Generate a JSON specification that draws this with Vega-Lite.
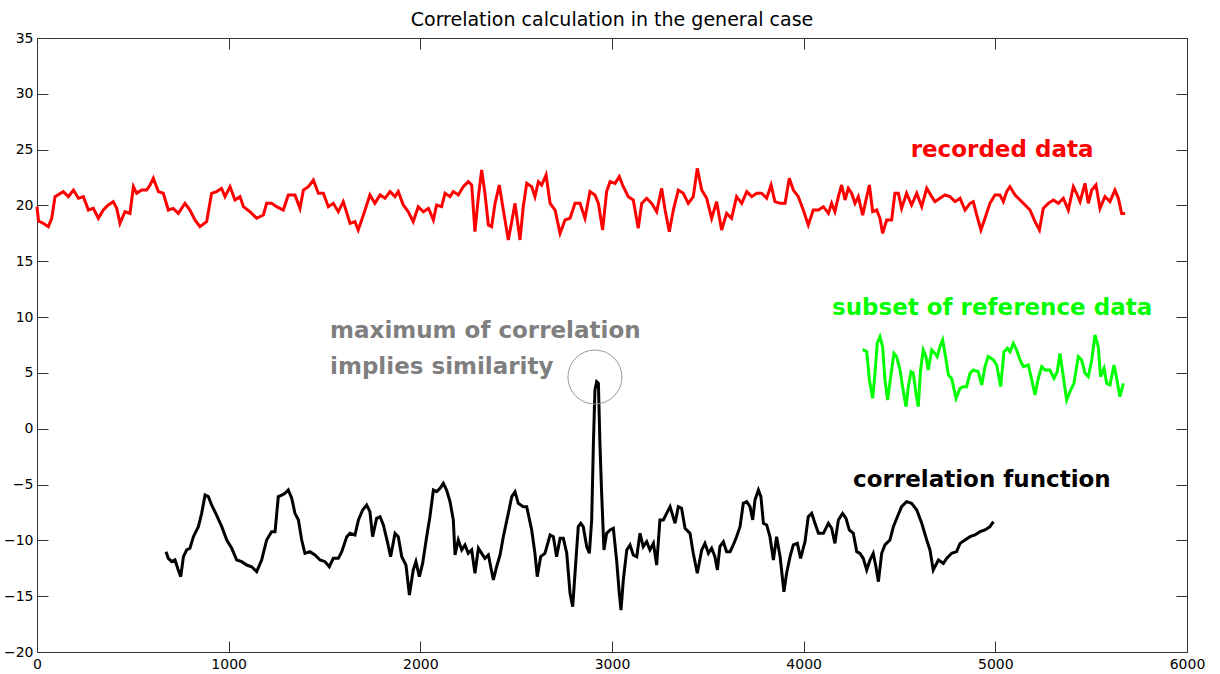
{
  "$schema": "https://vega.github.io/schema/vega-lite/v6.json",
  "width": 1150,
  "height": 614,
  "autosize": {"type": "none"},
  "padding": {"left": 37, "top": 38, "right": 33, "bottom": 22},
  "background": "white",
  "config": {
    "view": {"stroke": "#333333", "strokeWidth": 1},
    "axis": {"grid": false, "domain": false, "labelFont": "DejaVu Sans", "labelFontSize": 14, "labelColor": "#000000", "tickColor": "#333333", "tickSize": -11, "tickWidth": 1, "labelOverlap": false, "labelFlush": false, "title": null}
  },
  "title": {"text": "Correlation calculation in the general case", "font": "DejaVu Sans", "fontSize": 19, "fontWeight": "normal", "color": "#000000", "anchor": "middle", "baseline": "alphabetic", "offset": -14},
  "datasets": {
    "series": [
      {"s":"recorded","x":0,"y":19.9},{"s":"recorded","x":8,"y":18.6},{"s":"recorded","x":33,"y":18.4},{"s":"recorded","x":59,"y":18.1},{"s":"recorded","x":77,"y":18.85},{"s":"recorded","x":94,"y":20.79},{"s":"recorded","x":137,"y":21.24},{"s":"recorded","x":164,"y":20.79},{"s":"recorded","x":190,"y":21.38},{"s":"recorded","x":216,"y":20.64},{"s":"recorded","x":242,"y":20.79},{"s":"recorded","x":268,"y":19.59},{"s":"recorded","x":294,"y":19.74},{"s":"recorded","x":320,"y":18.85},{"s":"recorded","x":346,"y":19.59},{"s":"recorded","x":372,"y":20.04},{"s":"recorded","x":398,"y":20.34},{"s":"recorded","x":416,"y":19.74},{"s":"recorded","x":433,"y":18.4},{"s":"recorded","x":459,"y":19.44},{"s":"recorded","x":485,"y":19.29},{"s":"recorded","x":503,"y":21.68},{"s":"recorded","x":520,"y":21.09},{"s":"recorded","x":546,"y":21.38},{"s":"recorded","x":572,"y":21.38},{"s":"recorded","x":590,"y":21.83},{"s":"recorded","x":607,"y":22.43},{"s":"recorded","x":633,"y":21.24},{"s":"recorded","x":659,"y":21.09},{"s":"recorded","x":685,"y":19.59},{"s":"recorded","x":711,"y":19.74},{"s":"recorded","x":737,"y":19.29},{"s":"recorded","x":772,"y":20.19},{"s":"recorded","x":798,"y":19.59},{"s":"recorded","x":824,"y":18.7},{"s":"recorded","x":850,"y":18.1},{"s":"recorded","x":885,"y":18.55},{"s":"recorded","x":911,"y":21.09},{"s":"recorded","x":937,"y":21.24},{"s":"recorded","x":963,"y":21.53},{"s":"recorded","x":981,"y":20.79},{"s":"recorded","x":1007,"y":21.68},{"s":"recorded","x":1033,"y":20.49},{"s":"recorded","x":1059,"y":20.79},{"s":"recorded","x":1077,"y":19.89},{"s":"recorded","x":1111,"y":19.44},{"s":"recorded","x":1146,"y":18.85},{"s":"recorded","x":1181,"y":19.14},{"s":"recorded","x":1198,"y":20.19},{"s":"recorded","x":1224,"y":20.19},{"s":"recorded","x":1250,"y":19.89},{"s":"recorded","x":1285,"y":19.59},{"s":"recorded","x":1311,"y":20.94},{"s":"recorded","x":1346,"y":20.94},{"s":"recorded","x":1372,"y":19.74},{"s":"recorded","x":1390,"y":21.38},{"s":"recorded","x":1416,"y":21.68},{"s":"recorded","x":1442,"y":22.28},{"s":"recorded","x":1468,"y":21.09},{"s":"recorded","x":1494,"y":21.09},{"s":"recorded","x":1520,"y":19.89},{"s":"recorded","x":1546,"y":20.19},{"s":"recorded","x":1572,"y":19.44},{"s":"recorded","x":1598,"y":20.34},{"s":"recorded","x":1633,"y":18.4},{"s":"recorded","x":1659,"y":18.55},{"s":"recorded","x":1676,"y":17.8},{"s":"recorded","x":1703,"y":19.14},{"s":"recorded","x":1737,"y":20.94},{"s":"recorded","x":1763,"y":20.19},{"s":"recorded","x":1790,"y":20.94},{"s":"recorded","x":1816,"y":20.64},{"s":"recorded","x":1842,"y":21.24},{"s":"recorded","x":1868,"y":20.79},{"s":"recorded","x":1885,"y":21.24},{"s":"recorded","x":1911,"y":20.04},{"s":"recorded","x":1937,"y":19.44},{"s":"recorded","x":1963,"y":18.55},{"s":"recorded","x":1989,"y":19.89},{"s":"recorded","x":2016,"y":19.44},{"s":"recorded","x":2042,"y":19.74},
      {"s":"recorded","x":2050,"y":19.44},{"s":"recorded","x":2068,"y":18.7},{"s":"recorded","x":2085,"y":20.04},{"s":"recorded","x":2111,"y":19.89},{"s":"recorded","x":2129,"y":21.09},{"s":"recorded","x":2155,"y":20.79},{"s":"recorded","x":2172,"y":21.24},{"s":"recorded","x":2198,"y":20.94},{"s":"recorded","x":2224,"y":21.68},{"s":"recorded","x":2250,"y":22.13},{"s":"recorded","x":2268,"y":21.83},{"s":"recorded","x":2285,"y":17.65},{"s":"recorded","x":2303,"y":20.79},{"s":"recorded","x":2320,"y":23.18},{"s":"recorded","x":2337,"y":21.09},{"s":"recorded","x":2355,"y":18.25},{"s":"recorded","x":2372,"y":18.1},{"s":"recorded","x":2390,"y":20.19},{"s":"recorded","x":2412,"y":21.83},{"s":"recorded","x":2433,"y":19.59},{"s":"recorded","x":2459,"y":16.91},{"s":"recorded","x":2477,"y":18.55},{"s":"recorded","x":2494,"y":20.19},{"s":"recorded","x":2520,"y":16.91},{"s":"recorded","x":2537,"y":19.89},{"s":"recorded","x":2555,"y":21.98},{"s":"recorded","x":2581,"y":21.68},{"s":"recorded","x":2598,"y":20.79},{"s":"recorded","x":2616,"y":22.13},{"s":"recorded","x":2633,"y":21.83},{"s":"recorded","x":2656,"y":22.73},{"s":"recorded","x":2677,"y":20.19},{"s":"recorded","x":2703,"y":19.59},{"s":"recorded","x":2729,"y":17.5},{"s":"recorded","x":2755,"y":18.7},{"s":"recorded","x":2781,"y":18.85},{"s":"recorded","x":2807,"y":20.19},{"s":"recorded","x":2833,"y":20.19},{"s":"recorded","x":2859,"y":18.85},{"s":"recorded","x":2885,"y":21.24},{"s":"recorded","x":2911,"y":20.94},{"s":"recorded","x":2929,"y":20.19},{"s":"recorded","x":2951,"y":17.8},{"s":"recorded","x":2972,"y":21.24},{"s":"recorded","x":2990,"y":22.13},{"s":"recorded","x":3016,"y":21.98},{"s":"recorded","x":3038,"y":22.58},{"s":"recorded","x":3059,"y":21.68},{"s":"recorded","x":3085,"y":20.79},{"s":"recorded","x":3111,"y":20.49},{"s":"recorded","x":3137,"y":17.95},{"s":"recorded","x":3155,"y":20.19},{"s":"recorded","x":3181,"y":20.64},{"s":"recorded","x":3207,"y":20.19},{"s":"recorded","x":3233,"y":19.44},{"s":"recorded","x":3259,"y":21.53},{"s":"recorded","x":3277,"y":19.59},{"s":"recorded","x":3299,"y":17.65},{"s":"recorded","x":3320,"y":19.59},{"s":"recorded","x":3346,"y":21.38},{"s":"recorded","x":3372,"y":21.09},{"s":"recorded","x":3398,"y":20.19},{"s":"recorded","x":3424,"y":20.79},{"s":"recorded","x":3445,"y":23.32},{"s":"recorded","x":3468,"y":21.38},{"s":"recorded","x":3494,"y":20.64},{"s":"recorded","x":3520,"y":18.85},{"s":"recorded","x":3546,"y":20.34},{"s":"recorded","x":3572,"y":17.8},{"s":"recorded","x":3598,"y":19.29},{"s":"recorded","x":3624,"y":18.85},{"s":"recorded","x":3650,"y":20.79},{"s":"recorded","x":3677,"y":20.19},{"s":"recorded","x":3703,"y":21.24},{"s":"recorded","x":3729,"y":20.79},{"s":"recorded","x":3755,"y":21.09},{"s":"recorded","x":3781,"y":21.09},{"s":"recorded","x":3807,"y":20.64},{"s":"recorded","x":3830,"y":21.83},{"s":"recorded","x":3850,"y":20.34},{"s":"recorded","x":3877,"y":20.19},{"s":"recorded","x":3903,"y":20.19},{"s":"recorded","x":3925,"y":22.43},{"s":"recorded","x":3946,"y":21.38},{"s":"recorded","x":3972,"y":20.79},{"s":"recorded","x":3998,"y":19.59},{"s":"recorded","x":4024,"y":18.25},{"s":"recorded","x":4050,"y":19.59},{"s":"recorded","x":4077,"y":19.59},
      {"s":"recorded","x":4103,"y":19.89},{"s":"recorded","x":4129,"y":19.29},{"s":"recorded","x":4146,"y":20.19},{"s":"recorded","x":4163,"y":19.44},{"s":"recorded","x":4181,"y":20.79},{"s":"recorded","x":4198,"y":21.83},{"s":"recorded","x":4216,"y":20.49},{"s":"recorded","x":4233,"y":21.53},{"s":"recorded","x":4250,"y":21.09},{"s":"recorded","x":4268,"y":20.19},{"s":"recorded","x":4285,"y":20.79},{"s":"recorded","x":4308,"y":19.14},{"s":"recorded","x":4329,"y":20.79},{"s":"recorded","x":4343,"y":21.83},{"s":"recorded","x":4360,"y":19.44},{"s":"recorded","x":4381,"y":19.59},{"s":"recorded","x":4398,"y":18.85},{"s":"recorded","x":4412,"y":17.5},{"s":"recorded","x":4433,"y":18.7},{"s":"recorded","x":4459,"y":18.7},{"s":"recorded","x":4476,"y":21.09},{"s":"recorded","x":4494,"y":21.09},{"s":"recorded","x":4511,"y":19.74},{"s":"recorded","x":4537,"y":21.09},{"s":"recorded","x":4563,"y":20.04},{"s":"recorded","x":4590,"y":21.09},{"s":"recorded","x":4616,"y":19.89},{"s":"recorded","x":4642,"y":21.53},{"s":"recorded","x":4668,"y":20.79},{"s":"recorded","x":4685,"y":20.34},{"s":"recorded","x":4711,"y":20.64},{"s":"recorded","x":4737,"y":20.94},{"s":"recorded","x":4763,"y":20.79},{"s":"recorded","x":4790,"y":20.34},{"s":"recorded","x":4816,"y":20.64},{"s":"recorded","x":4842,"y":19.59},{"s":"recorded","x":4868,"y":20.19},{"s":"recorded","x":4885,"y":20.34},{"s":"recorded","x":4903,"y":19.14},{"s":"recorded","x":4925,"y":17.8},{"s":"recorded","x":4946,"y":18.85},{"s":"recorded","x":4972,"y":20.19},{"s":"recorded","x":4998,"y":20.94},{"s":"recorded","x":5024,"y":20.94},{"s":"recorded","x":5042,"y":20.34},{"s":"recorded","x":5059,"y":21.24},{"s":"recorded","x":5076,"y":21.68},{"s":"recorded","x":5103,"y":20.94},{"s":"recorded","x":5129,"y":20.49},{"s":"recorded","x":5155,"y":20.04},{"s":"recorded","x":5181,"y":19.59},{"s":"recorded","x":5207,"y":18.55},{"s":"recorded","x":5230,"y":17.8},{"s":"recorded","x":5250,"y":19.74},{"s":"recorded","x":5276,"y":20.19},{"s":"recorded","x":5303,"y":20.49},{"s":"recorded","x":5329,"y":20.19},{"s":"recorded","x":5355,"y":20.64},{"s":"recorded","x":5381,"y":19.59},{"s":"recorded","x":5407,"y":21.68},{"s":"recorded","x":5424,"y":21.09},{"s":"recorded","x":5442,"y":20.34},{"s":"recorded","x":5468,"y":21.98},{"s":"recorded","x":5485,"y":20.19},{"s":"recorded","x":5503,"y":21.38},{"s":"recorded","x":5525,"y":21.83},{"s":"recorded","x":5546,"y":19.74},{"s":"recorded","x":5572,"y":20.79},{"s":"recorded","x":5598,"y":20.34},{"s":"recorded","x":5624,"y":21.38},{"s":"recorded","x":5642,"y":20.64},{"s":"recorded","x":5659,"y":19.29},{"s":"recorded","x":5677,"y":19.29},
      {"s":"reference","x":4308,"y":7.11},{"s":"reference","x":4329,"y":6.9},{"s":"reference","x":4343,"y":4.37},{"s":"reference","x":4360,"y":2.72},{"s":"reference","x":4372,"y":4.96},{"s":"reference","x":4384,"y":7.65},{"s":"reference","x":4398,"y":8.25},{"s":"reference","x":4412,"y":7.35},{"s":"reference","x":4424,"y":4.37},{"s":"reference","x":4438,"y":2.57},{"s":"reference","x":4454,"y":4.66},{"s":"reference","x":4471,"y":6.75},{"s":"reference","x":4485,"y":6.46},{"s":"reference","x":4503,"y":5.26},{"s":"reference","x":4516,"y":3.77},{"s":"reference","x":4534,"y":1.98},{"s":"reference","x":4546,"y":3.77},{"s":"reference","x":4560,"y":5.11},{"s":"reference","x":4572,"y":4.96},{"s":"reference","x":4586,"y":3.17},{"s":"reference","x":4598,"y":1.98},{"s":"reference","x":4610,"y":5.26},{"s":"reference","x":4624,"y":7.05},{"s":"reference","x":4638,"y":6.46},{"s":"reference","x":4650,"y":5.26},{"s":"reference","x":4668,"y":7.05},{"s":"reference","x":4685,"y":6.75},{"s":"reference","x":4697,"y":6.46},{"s":"reference","x":4711,"y":7.35},{"s":"reference","x":4725,"y":7.95},{"s":"reference","x":4743,"y":6.16},{"s":"reference","x":4755,"y":4.81},{"s":"reference","x":4772,"y":4.51},{"s":"reference","x":4795,"y":2.72},{"s":"reference","x":4816,"y":3.62},{"s":"reference","x":4833,"y":3.77},{"s":"reference","x":4850,"y":3.77},{"s":"reference","x":4868,"y":4.96},{"s":"reference","x":4885,"y":5.26},{"s":"reference","x":4911,"y":5.11},{"s":"reference","x":4929,"y":3.92},{"s":"reference","x":4946,"y":5.56},{"s":"reference","x":4963,"y":6.46},{"s":"reference","x":4990,"y":6.16},{"s":"reference","x":5007,"y":5.71},{"s":"reference","x":5028,"y":3.77},{"s":"reference","x":5045,"y":6.9},{"s":"reference","x":5063,"y":7.2},{"s":"reference","x":5076,"y":6.9},{"s":"reference","x":5094,"y":7.65},{"s":"reference","x":5111,"y":7.05},{"s":"reference","x":5129,"y":6.16},{"s":"reference","x":5146,"y":5.56},{"s":"reference","x":5172,"y":5.71},{"s":"reference","x":5190,"y":4.37},{"s":"reference","x":5207,"y":3.02},{"s":"reference","x":5224,"y":4.51},{"s":"reference","x":5242,"y":5.56},{"s":"reference","x":5259,"y":5.26},{"s":"reference","x":5285,"y":5.26},{"s":"reference","x":5306,"y":4.51},{"s":"reference","x":5323,"y":5.11},{"s":"reference","x":5337,"y":6.75},{"s":"reference","x":5351,"y":5.11},{"s":"reference","x":5372,"y":2.57},{"s":"reference","x":5393,"y":3.47},{"s":"reference","x":5410,"y":4.07},{"s":"reference","x":5433,"y":6.46},{"s":"reference","x":5450,"y":6.16},{"s":"reference","x":5468,"y":4.96},{"s":"reference","x":5485,"y":4.66},{"s":"reference","x":5503,"y":6.16},{"s":"reference","x":5520,"y":8.4},{"s":"reference","x":5537,"y":7.35},{"s":"reference","x":5549,"y":4.66},{"s":"reference","x":5567,"y":5.41},{"s":"reference","x":5581,"y":4.07},{"s":"reference","x":5598,"y":3.92},{"s":"reference","x":5619,"y":5.71},{"s":"reference","x":5633,"y":4.51},{"s":"reference","x":5650,"y":2.87},{"s":"reference","x":5668,"y":4.07},
      {"s":"correlation","x":673,"y":-11.01},{"s":"correlation","x":685,"y":-11.61},{"s":"correlation","x":703,"y":-11.91},{"s":"correlation","x":720,"y":-11.76},{"s":"correlation","x":737,"y":-12.65},{"s":"correlation","x":750,"y":-13.25},{"s":"correlation","x":764,"y":-11.46},{"s":"correlation","x":781,"y":-10.86},{"s":"correlation","x":798,"y":-10.71},{"s":"correlation","x":816,"y":-9.67},{"s":"correlation","x":842,"y":-8.77},{"s":"correlation","x":859,"y":-7.58},{"s":"correlation","x":877,"y":-5.94},{"s":"correlation","x":894,"y":-6.08},{"s":"correlation","x":911,"y":-6.83},{"s":"correlation","x":937,"y":-7.73},{"s":"correlation","x":964,"y":-8.77},{"s":"correlation","x":990,"y":-9.97},{"s":"correlation","x":1016,"y":-10.71},{"s":"correlation","x":1042,"y":-11.76},{"s":"correlation","x":1068,"y":-11.91},{"s":"correlation","x":1094,"y":-12.21},{"s":"correlation","x":1120,"y":-12.36},{"s":"correlation","x":1146,"y":-12.8},{"s":"correlation","x":1172,"y":-11.76},{"s":"correlation","x":1198,"y":-9.97},{"s":"correlation","x":1224,"y":-9.22},{"s":"correlation","x":1242,"y":-9.22},{"s":"correlation","x":1259,"y":-6.08},{"s":"correlation","x":1277,"y":-5.94},{"s":"correlation","x":1294,"y":-5.79},{"s":"correlation","x":1311,"y":-5.49},{"s":"correlation","x":1329,"y":-6.23},{"s":"correlation","x":1346,"y":-7.58},{"s":"correlation","x":1364,"y":-8.17},{"s":"correlation","x":1381,"y":-9.97},{"s":"correlation","x":1398,"y":-11.16},{"s":"correlation","x":1424,"y":-11.01},{"s":"correlation","x":1450,"y":-11.31},{"s":"correlation","x":1477,"y":-11.76},{"s":"correlation","x":1503,"y":-11.91},{"s":"correlation","x":1525,"y":-12.36},{"s":"correlation","x":1546,"y":-11.61},{"s":"correlation","x":1572,"y":-11.61},{"s":"correlation","x":1590,"y":-11.01},{"s":"correlation","x":1616,"y":-9.67},{"s":"correlation","x":1633,"y":-9.37},{"s":"correlation","x":1659,"y":-9.52},{"s":"correlation","x":1677,"y":-8.17},{"s":"correlation","x":1699,"y":-7.28},{"s":"correlation","x":1720,"y":-6.83},{"s":"correlation","x":1737,"y":-7.43},{"s":"correlation","x":1751,"y":-9.67},{"s":"correlation","x":1772,"y":-8.03},{"s":"correlation","x":1790,"y":-7.88},{"s":"correlation","x":1807,"y":-8.62},{"s":"correlation","x":1828,"y":-10.12},{"s":"correlation","x":1845,"y":-11.46},{"s":"correlation","x":1868,"y":-9.37},{"s":"correlation","x":1885,"y":-9.67},{"s":"correlation","x":1903,"y":-11.46},{"s":"correlation","x":1925,"y":-12.21},{"s":"correlation","x":1943,"y":-14.89},{"s":"correlation","x":1963,"y":-12.65},{"s":"correlation","x":1977,"y":-11.91},{"s":"correlation","x":1995,"y":-13.25},{"s":"correlation","x":2012,"y":-12.06},{"s":"correlation","x":2033,"y":-9.67},{"s":"correlation","x":2050,"y":-7.88},{"s":"correlation","x":2068,"y":-5.49},{"s":"correlation","x":2085,"y":-5.64},{"s":"correlation","x":2103,"y":-5.34},{"s":"correlation","x":2120,"y":-4.89},{"s":"correlation","x":2137,"y":-5.49},{"s":"correlation","x":2155,"y":-6.53},{"s":"correlation","x":2172,"y":-8.17},{"s":"correlation","x":2181,"y":-11.31},{"s":"correlation","x":2198,"y":-9.97},{"s":"correlation","x":2216,"y":-10.86},{"s":"correlation","x":2233,"y":-10.41},{"s":"correlation","x":2250,"y":-11.16},{"s":"correlation","x":2268,"y":-10.86},{"s":"correlation","x":2285,"y":-12.95},{"s":"correlation","x":2303,"y":-10.71},{"s":"correlation","x":2320,"y":-11.16},{"s":"correlation","x":2337,"y":-11.61},{"s":"correlation","x":2355,"y":-11.31},{"s":"correlation","x":2381,"y":-13.55},{"s":"correlation","x":2398,"y":-12.36},{"s":"correlation","x":2416,"y":-11.31},{"s":"correlation","x":2433,"y":-9.67},{"s":"correlation","x":2459,"y":-7.58},{"s":"correlation","x":2477,"y":-6.08},{"s":"correlation","x":2494,"y":-5.64},{"s":"correlation","x":2511,"y":-6.68},{"s":"correlation","x":2537,"y":-6.98},{"s":"correlation","x":2555,"y":-6.98},{"s":"correlation","x":2581,"y":-9.07},{"s":"correlation","x":2598,"y":-11.16},{"s":"correlation","x":2610,"y":-13.25},{"s":"correlation","x":2628,"y":-11.46},{"s":"correlation","x":2650,"y":-11.16},{"s":"correlation","x":2677,"y":-9.52},{"s":"correlation","x":2694,"y":-9.67},{"s":"correlation","x":2711,"y":-11.46},{"s":"correlation","x":2729,"y":-9.82},{"s":"correlation","x":2746,"y":-9.82},{"s":"correlation","x":2764,"y":-11.16},
      {"s":"correlation","x":2781,"y":-14.74},{"s":"correlation","x":2795,"y":-15.94},{"s":"correlation","x":2807,"y":-12.95},{"s":"correlation","x":2824,"y":-8.77},{"s":"correlation","x":2837,"y":-8.47},{"s":"correlation","x":2850,"y":-8.77},{"s":"correlation","x":2868,"y":-10.56},{"s":"correlation","x":2882,"y":-11.16},{"s":"correlation","x":2894,"y":-8.17},{"s":"correlation","x":2903,"y":-1.31},{"s":"correlation","x":2911,"y":3.47},{"s":"correlation","x":2920,"y":4.22},{"s":"correlation","x":2929,"y":4.07},{"s":"correlation","x":2937,"y":-1.31},{"s":"correlation","x":2946,"y":-5.79},{"s":"correlation","x":2958,"y":-10.86},{"s":"correlation","x":2972,"y":-9.37},{"s":"correlation","x":2990,"y":-9.07},{"s":"correlation","x":3007,"y":-8.92},{"s":"correlation","x":3024,"y":-11.76},{"s":"correlation","x":3038,"y":-14.74},{"s":"correlation","x":3047,"y":-16.24},{"s":"correlation","x":3059,"y":-13.55},{"s":"correlation","x":3077,"y":-10.86},{"s":"correlation","x":3094,"y":-10.41},{"s":"correlation","x":3111,"y":-11.31},{"s":"correlation","x":3129,"y":-11.46},{"s":"correlation","x":3146,"y":-9.37},{"s":"correlation","x":3163,"y":-10.56},{"s":"correlation","x":3181,"y":-10.12},{"s":"correlation","x":3198,"y":-10.86},{"s":"correlation","x":3216,"y":-10.27},{"s":"correlation","x":3233,"y":-12.21},{"s":"correlation","x":3250,"y":-8.17},{"s":"correlation","x":3268,"y":-8.17},{"s":"correlation","x":3285,"y":-7.58},{"s":"correlation","x":3303,"y":-6.98},{"s":"correlation","x":3329,"y":-8.47},{"s":"correlation","x":3346,"y":-6.98},{"s":"correlation","x":3363,"y":-7.13},{"s":"correlation","x":3381,"y":-8.92},{"s":"correlation","x":3407,"y":-9.37},{"s":"correlation","x":3424,"y":-11.16},{"s":"correlation","x":3445,"y":-12.95},{"s":"correlation","x":3468,"y":-10.86},{"s":"correlation","x":3485,"y":-10.27},{"s":"correlation","x":3503,"y":-11.16},{"s":"correlation","x":3520,"y":-10.71},{"s":"correlation","x":3537,"y":-11.46},{"s":"correlation","x":3550,"y":-12.65},{"s":"correlation","x":3563,"y":-10.56},{"s":"correlation","x":3581,"y":-10.12},{"s":"correlation","x":3598,"y":-11.01},{"s":"correlation","x":3616,"y":-11.01},{"s":"correlation","x":3633,"y":-10.41},{"s":"correlation","x":3650,"y":-9.67},{"s":"correlation","x":3668,"y":-8.77},{"s":"correlation","x":3685,"y":-6.68},{"s":"correlation","x":3703,"y":-6.53},{"s":"correlation","x":3720,"y":-6.98},{"s":"correlation","x":3734,"y":-8.17},{"s":"correlation","x":3746,"y":-6.38},{"s":"correlation","x":3764,"y":-5.49},{"s":"correlation","x":3777,"y":-6.09},{"s":"correlation","x":3790,"y":-8.47},{"s":"correlation","x":3807,"y":-8.62},{"s":"correlation","x":3824,"y":-9.67},{"s":"correlation","x":3842,"y":-11.76},{"s":"correlation","x":3859,"y":-9.67},{"s":"correlation","x":3877,"y":-11.46},{"s":"correlation","x":3897,"y":-14.6},{"s":"correlation","x":3911,"y":-12.95},{"s":"correlation","x":3929,"y":-11.46},{"s":"correlation","x":3946,"y":-10.41},{"s":"correlation","x":3967,"y":-10.27},{"s":"correlation","x":3984,"y":-11.61},{"s":"correlation","x":4007,"y":-10.12},{"s":"correlation","x":4024,"y":-7.88},{"s":"correlation","x":4042,"y":-7.58},{"s":"correlation","x":4059,"y":-8.47},{"s":"correlation","x":4077,"y":-9.37},{"s":"correlation","x":4103,"y":-9.37},{"s":"correlation","x":4129,"y":-8.47},{"s":"correlation","x":4146,"y":-8.92},{"s":"correlation","x":4163,"y":-10.27},{"s":"correlation","x":4181,"y":-8.17},{"s":"correlation","x":4203,"y":-7.58},{"s":"correlation","x":4221,"y":-8.03},{"s":"correlation","x":4238,"y":-9.07},{"s":"correlation","x":4259,"y":-9.37},{"s":"correlation","x":4277,"y":-11.01},{"s":"correlation","x":4294,"y":-11.16},{"s":"correlation","x":4311,"y":-11.61},{"s":"correlation","x":4329,"y":-12.65},{"s":"correlation","x":4346,"y":-11.76},{"s":"correlation","x":4363,"y":-11.16},{"s":"correlation","x":4377,"y":-12.36},{"s":"correlation","x":4390,"y":-13.7},{"s":"correlation","x":4407,"y":-11.16},{"s":"correlation","x":4424,"y":-10.41},{"s":"correlation","x":4450,"y":-9.97},{"s":"correlation","x":4468,"y":-8.77},{"s":"correlation","x":4489,"y":-7.88},{"s":"correlation","x":4511,"y":-6.98},{"s":"correlation","x":4537,"y":-6.53},{"s":"correlation","x":4563,"y":-6.68},{"s":"correlation","x":4590,"y":-7.28},{"s":"correlation","x":4616,"y":-8.47},{"s":"correlation","x":4642,"y":-9.97},{"s":"correlation","x":4659,"y":-10.86},{"s":"correlation","x":4676,"y":-12.65},{"s":"correlation","x":4703,"y":-11.76},{"s":"correlation","x":4729,"y":-12.06},{"s":"correlation","x":4746,"y":-11.61},{"s":"correlation","x":4772,"y":-11.16},{"s":"correlation","x":4798,"y":-11.01},{"s":"correlation","x":4816,"y":-10.27},{"s":"correlation","x":4842,"y":-9.97},{"s":"correlation","x":4868,"y":-9.67},{"s":"correlation","x":4894,"y":-9.52},{"s":"correlation","x":4920,"y":-9.22},{"s":"correlation","x":4946,"y":-9.07},{"s":"correlation","x":4972,"y":-8.77},{"s":"correlation","x":4990,"y":-8.32}
    ]
  },
  "layer": [
    {
      "data": {"name": "series"},
      "mark": {"type": "line", "strokeWidth": 3, "interpolate": "linear"},
      "encoding": {
        "x": {"field": "x", "type": "quantitative", "scale": {"domain": [0, 6000], "nice": false, "zero": false}, "axis": {"orient": "bottom", "values": [0, 1000, 2000, 3000, 4000, 5000, 6000], "format": "d", "labelPadding": 16}},
        "y": {"field": "y", "type": "quantitative", "scale": {"domain": [-20, 35], "nice": false, "zero": false}, "axis": {"orient": "left", "values": [-20, -15, -10, -5, 0, 5, 10, 15, 20, 25, 30, 35], "format": "d", "labelPadding": 15}},
        "color": {"field": "s", "type": "nominal", "scale": {"domain": ["recorded", "reference", "correlation"], "range": ["#ff0000", "#00ff00", "#000000"]}, "legend": null},
        "order": {"field": "x", "type": "quantitative"}
      }
    },
    {
      "data": {"values": [{"x": 2911, "y": 4.63}]},
      "mark": {"type": "point", "shape": "circle", "size": 2916, "filled": false, "stroke": "#999999", "strokeWidth": 1, "opacity": 1},
      "encoding": {
        "x": {"field": "x", "type": "quantitative", "scale": {"domain": [0, 6000], "nice": false, "zero": false}, "axis": {"orient": "top", "values": [0, 1000, 2000, 3000, 4000, 5000, 6000], "labels": false}},
        "y": {"field": "y", "type": "quantitative", "scale": {"domain": [-20, 35], "nice": false, "zero": false}, "axis": {"orient": "right", "values": [-20, -15, -10, -5, 0, 5, 10, 15, 20, 25, 30, 35], "labels": false}}
      }
    },
    {
      "data": {"values": [{"x": 5035, "y": 25, "label": "recorded data"}]},
      "mark": {"type": "text", "font": "DejaVu Sans", "fontWeight": "bold", "fontSize": 23, "color": "#ff0000", "align": "center", "baseline": "middle"},
      "encoding": {
        "x": {"field": "x", "type": "quantitative", "scale": {"domain": [0, 6000], "nice": false, "zero": false}, "axis": null},
        "y": {"field": "y", "type": "quantitative", "scale": {"domain": [-20, 35], "nice": false, "zero": false}, "axis": null},
        "text": {"field": "label"}
      }
    },
    {
      "data": {"values": [{"x": 4983, "y": 10.81, "label": "subset of reference data"}]},
      "mark": {"type": "text", "font": "DejaVu Sans", "fontWeight": "bold", "fontSize": 23, "color": "#00ff00", "align": "center", "baseline": "middle"},
      "encoding": {
        "x": {"field": "x", "type": "quantitative", "scale": {"domain": [0, 6000], "nice": false, "zero": false}, "axis": null},
        "y": {"field": "y", "type": "quantitative", "scale": {"domain": [-20, 35], "nice": false, "zero": false}, "axis": null},
        "text": {"field": "label"}
      }
    },
    {
      "data": {"values": [{"x": 4930, "y": -4.59, "label": "correlation function"}]},
      "mark": {"type": "text", "font": "DejaVu Sans", "fontWeight": "bold", "fontSize": 23, "color": "#000000", "align": "center", "baseline": "middle"},
      "encoding": {
        "x": {"field": "x", "type": "quantitative", "scale": {"domain": [0, 6000], "nice": false, "zero": false}, "axis": null},
        "y": {"field": "y", "type": "quantitative", "scale": {"domain": [-20, 35], "nice": false, "zero": false}, "axis": null},
        "text": {"field": "label"}
      }
    },
    {
      "data": {"values": [{"x": 1529, "y": 8.76, "label": "maximum of correlation"}, {"x": 1529, "y": 5.53, "label": "implies similarity"}]},
      "mark": {"type": "text", "font": "DejaVu Sans", "fontWeight": "bold", "fontSize": 23, "color": "#7f7f7f", "align": "left", "baseline": "middle"},
      "encoding": {
        "x": {"field": "x", "type": "quantitative", "scale": {"domain": [0, 6000], "nice": false, "zero": false}, "axis": null},
        "y": {"field": "y", "type": "quantitative", "scale": {"domain": [-20, 35], "nice": false, "zero": false}, "axis": null},
        "text": {"field": "label"}
      }
    }
  ],
  "resolve": {"axis": {"x": "independent", "y": "independent"}}
}
